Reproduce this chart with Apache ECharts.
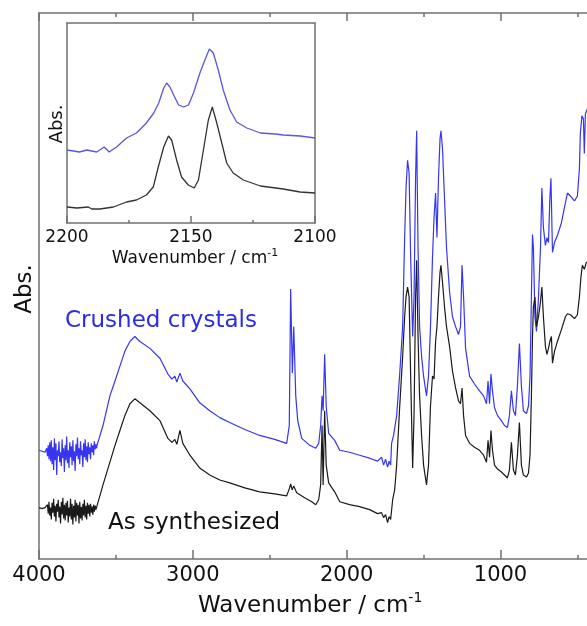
<!DOCTYPE html>
<html>
<head>
<meta charset="utf-8">
<script src="https://cdn.jsdelivr.net/npm/echarts@6/dist/echarts.min.js"></script>
<style>html,body{margin:0;padding:0;background:#fff;overflow:hidden;}#wrap{width:587px;height:626px;overflow:hidden;position:relative;}#c{width:664px;height:626px;position:absolute;left:0;top:0;}</style>
</head>
<body>
<div id="wrap"><div id="c"></div></div>
<script>
// Wavenumber (cm-1), absorbance (arbitrary units)
const crushedMain = [
[4000,110],[3990,110],[3980,109],[3970,110],[3960,108],
[3950,112],[3945,104],[3940,115],[3935,101],[3930,118],[3925,99],[3920,120],[3915,96],[3910,113],[3905,90],
[3900,122],[3895,100],[3890,117],[3885,85],[3880,110],[3875,104],[3870,119],[3865,98],[3860,108],[3855,94],
[3850,121],[3845,102],[3840,112],[3835,88],[3830,115],[3825,100],[3820,124],[3815,97],[3810,110],[3805,92],
[3800,118],[3795,103],[3790,114],[3785,95],[3780,120],[3775,99],[3770,109],[3765,89],[3760,116],[3755,104],
[3750,123],[3745,101],[3740,112],[3735,96],[3730,119],[3725,105],[3720,110],[3715,93],[3710,117],[3705,103],
[3700,121],[3695,100],[3690,114],[3685,98],[3680,118],[3675,106],[3670,113],[3665,101],[3660,117],[3655,108],
[3650,115],[3645,105],[3640,119],[3635,111],[3630,116],[3625,112],
[3623,115],[3584,135],[3539,165],[3506,180],[3474,195],[3442,210],[3409,220],[3377,225],[3344,220],[3279,213],
[3214,203],[3162,187],[3136,182],[3117,185],[3104,179],[3084,188],[3065,180],[3019,172],[2955,158],[2890,150],
[2825,143],[2760,138],[2662,131],[2565,125],[2468,121],[2390,117],[2373,135],[2364,273],[2353,188],[2344,235],
[2331,165],[2318,140],[2292,122],[2240,115],[2201,112],[2182,117],[2169,135],[2160,165],[2153,150],[2143,207],
[2133,155],[2117,127],[2078,120],[2045,110],[1981,108],[1916,105],[1851,102],[1799,99],[1773,103],[1760,95],
[1747,101],[1734,93],[1724,99],[1714,95],[1708,117],[1695,125],[1675,145],[1656,185],[1636,235],[1623,325],
[1614,375],[1604,403],[1594,390],[1584,305],[1571,225],[1562,265],[1552,385],[1545,433],[1536,315],[1526,235],
[1513,205],[1500,185],[1481,165],[1468,185],[1455,235],[1442,305],[1432,345],[1422,370],[1413,325],[1403,385],
[1393,425],[1387,433],[1377,415],[1364,365],[1351,315],[1331,270],[1312,245],[1292,235],[1273,227],[1260,235],
[1250,297],[1240,265],[1227,213],[1201,185],[1169,177],[1136,170],[1110,165],[1091,157],[1081,180],[1071,157],
[1062,187],[1052,170],[1039,153],[1019,145],[994,140],[974,135],[955,133],[942,145],[929,170],[916,150],
[903,145],[890,175],[877,218],[864,175],[851,150],[831,147],[818,155],[808,185],[799,265],[792,328],
[786,315],[776,245],[766,230],[753,265],[740,315],[731,375],[721,335],[708,317],[698,325],[688,320],
[679,365],[672,385],[662,310],[649,320],[630,327],[604,340],[578,360],[565,370],[545,367],[519,362],
[500,367],[487,395],[481,430],[471,448],[461,445],[455,410],[448,450],[435,455],[409,457],[400,457]
];
const synthMain = [
[4000,52],[3990,52],[3980,51],[3970,53],[3960,52],[3950,50],
[3945,55],[3940,46],[3935,58],[3930,44],[3925,52],[3920,40],[3915,57],[3910,47],[3905,61],[3900,43],
[3895,54],[3890,38],[3885,56],[3880,48],[3875,60],[3870,42],[3865,53],[3860,36],[3855,58],[3850,45],
[3845,62],[3840,41],[3835,55],[3830,39],[3825,57],[3820,44],[3815,59],[3810,37],[3805,52],[3800,43],
[3795,61],[3790,40],[3785,56],[3780,35],[3775,54],[3770,42],[3765,60],[3760,38],[3755,57],[3750,44],
[3745,55],[3740,36],[3735,58],[3730,41],[3725,53],[3720,39],[3715,56],[3710,44],[3705,60],[3700,42],
[3695,54],[3690,40],[3685,57],[3680,46],[3675,55],[3670,43],[3665,56],[3660,47],[3655,53],[3650,45],
[3645,55],[3640,48],[3635,54],[3630,50],[3625,52],
[3623,52],[3584,75],[3539,98],[3506,115],[3474,130],[3442,145],[3409,157],[3377,162],[3344,158],[3279,150],
[3214,140],[3162,122],[3136,118],[3117,121],[3104,116],[3084,130],[3065,117],[3019,105],[2955,92],[2890,85],
[2825,80],[2760,77],[2662,72],[2565,68],[2468,66],[2390,64],[2373,71],[2364,76],[2354,70],[2344,74],
[2325,67],[2273,62],[2227,58],[2201,55],[2182,60],[2169,75],[2160,135],[2153,75],[2143,150],[2133,95],
[2117,77],[2078,68],[2045,58],[1981,55],[1916,53],[1851,50],[1799,46],[1773,47],[1760,42],[1747,45],
[1734,37],[1724,43],[1714,40],[1701,60],[1688,70],[1675,95],[1656,152],[1636,205],[1623,245],[1614,265],
[1604,275],[1594,265],[1584,185],[1571,92],[1562,145],[1552,265],[1545,302],[1536,225],[1526,165],[1513,125],
[1500,95],[1481,75],[1468,95],[1455,155],[1442,185],[1432,182],[1422,220],[1413,235],[1403,265],[1393,290],
[1387,297],[1377,280],[1364,255],[1351,235],[1331,215],[1312,190],[1292,173],[1273,160],[1260,157],[1250,173],
[1240,145],[1227,125],[1201,117],[1169,113],[1136,110],[1110,105],[1091,98],[1081,120],[1071,103],[1062,130],
[1052,110],[1039,95],[1019,91],[994,88],[974,85],[955,82],[942,90],[929,118],[916,90],[903,85],
[890,105],[877,138],[864,95],[851,85],[831,83],[818,87],[808,105],[799,165],[792,225],[786,255],
[776,265],[766,235],[753,245],[740,260],[731,275],[721,245],[708,215],[698,207],[688,213],[679,220],
[669,225],[662,198],[649,210],[630,220],[604,232],[578,245],[565,248],[545,247],[519,243],[500,247],
[487,265],[477,285],[468,297],[455,293],[442,300],[400,302]
];
const crushedInset = [
[2200,73],[2195,71],[2192,73],[2188,71],[2185,76],[2183,71],[2180,76],[2176,85],[2172,90],[2168,100],
[2165,110],[2163,120],[2161,135],[2159.8,140],[2158.5,136],[2157,128],[2155,118],[2153,116],[2151,118],[2149,130],
[2146.4,150],[2144.4,163],[2142.6,174],[2141,170],[2139,153],[2137,133],[2134.3,113],[2131.6,101],[2127.5,95],[2122,90],
[2116,89],[2112.8,88],[2106,87],[2100,85]
];
const synthInset = [
[2200,16],[2196,15],[2191.4,16],[2190,14],[2186.7,14],[2181.3,16],[2176,21],[2172,23],[2168,28],[2165.2,36],
[2163.2,56],[2161,76],[2159.1,87],[2157.8,83],[2155.8,63],[2153.8,46],[2151.1,38],[2148.7,35],[2147,43],[2145,73],
[2143,103],[2141.4,116],[2139.6,100],[2137.6,80],[2135.6,60],[2133,50],[2128.9,43],[2122,37],[2112.8,34],[2106,31],
[2100,30]
];
const seriesNames = ['Crushed crystals', 'As synthesized'];

const FONT = 'DejaVu Sans';
const GREY = '#707070';
const plain = v => String(v);
const chart = echarts.init(document.getElementById('c'), null, {renderer: 'canvas'});
chart.setOption({
  animation: false,
  backgroundColor: '#fff',
  grid: [
    {left: 39, right: 0, top: 13, bottom: 61, containLabel: false},
    {left: 67, top: 23, width: 248, height: 200, show: true, backgroundColor: '#fff', borderWidth: 0, containLabel: false}
  ],
  xAxis: [
    {gridIndex: 0, type: 'value', inverse: true, min: 0, max: 4000, interval: 1000, position: 'bottom',
     axisLine: {show: true, onZero: false, lineStyle: {color: GREY, width: 1.5}},
     axisTick: {show: true, inside: true, length: 9, lineStyle: {color: GREY, width: 1.5}},
     minorTick: {show: true, splitNumber: 2, length: 4, lineStyle: {color: GREY, width: 1.5}},
     splitLine: {show: false}, minorSplitLine: {show: false},
     axisLabel: {fontFamily: FONT, fontSize: 21, color: '#111', margin: 6, formatter: plain},
     name: 'Wavenumber / cm{sup|-1}', nameLocation: 'middle', nameGap: 30,
     nameTextStyle: {fontFamily: FONT, fontSize: 23, lineHeight: 30, color: '#111', padding: [0, 73, 0, 0],
       rich: {sup: {fontFamily: FONT, fontSize: 14, color: '#111', verticalAlign: 'top', lineHeight: 14}}}
    },
    {gridIndex: 0, type: 'value', inverse: true, min: 0, max: 4000, interval: 1000, position: 'top',
     axisLine: {show: true, onZero: false, lineStyle: {color: GREY, width: 1.5}},
     axisTick: {show: true, inside: true, length: 8, lineStyle: {color: GREY, width: 1.5}},
     minorTick: {show: true, splitNumber: 2, length: 4, lineStyle: {color: GREY, width: 1.5}},
     splitLine: {show: false}, axisLabel: {show: false}
    },
    {gridIndex: 1, type: 'value', inverse: true, min: 2100, max: 2200, interval: 50, position: 'bottom',
     axisLine: {show: true, onZero: false, lineStyle: {color: GREY, width: 1.5}},
     axisTick: {show: true, inside: true, length: 7, lineStyle: {color: GREY, width: 1.5}},
     minorTick: {show: true, splitNumber: 2, length: 3, lineStyle: {color: GREY, width: 1.5}},
     splitLine: {show: false},
     axisLabel: {fontFamily: FONT, fontSize: 17, color: '#111', margin: 6, formatter: plain},
     name: 'Wavenumber / cm{sup|-1}', nameLocation: 'middle', nameGap: 25,
     nameTextStyle: {fontFamily: FONT, fontSize: 17, lineHeight: 22, color: '#111', padding: [0, 0, 0, 8],
       rich: {sup: {fontFamily: FONT, fontSize: 11, color: '#111', verticalAlign: 'top', lineHeight: 11}}}
    },
    {gridIndex: 1, type: 'value', inverse: true, min: 2100, max: 2200, position: 'top',
     axisLine: {show: true, onZero: false, lineStyle: {color: GREY, width: 1.5}},
     axisTick: {show: false}, splitLine: {show: false}, axisLabel: {show: false}
    }
  ],
  yAxis: [
    {gridIndex: 0, type: 'value', min: 0, max: 552, position: 'left',
     axisLine: {show: true, onZero: false, lineStyle: {color: GREY, width: 1.5}},
     axisTick: {show: false}, splitLine: {show: false}, axisLabel: {show: false}},
    {gridIndex: 1, type: 'value', min: 0, max: 200, position: 'left',
     axisLine: {show: true, onZero: false, lineStyle: {color: GREY, width: 1.5}},
     axisTick: {show: false}, splitLine: {show: false}, axisLabel: {show: false}},
    {gridIndex: 1, type: 'value', min: 0, max: 200, position: 'right',
     axisLine: {show: true, onZero: false, lineStyle: {color: GREY, width: 1.5}},
     axisTick: {show: false}, splitLine: {show: false}, axisLabel: {show: false}}
  ],
  series: [
    {name: seriesNames[0], type: 'line', xAxisIndex: 0, yAxisIndex: 0, data: crushedMain, showSymbol: false, symbol: 'none',
     lineStyle: {color: '#3535f2', width: 1.2}, z: 3},
    {name: seriesNames[1], type: 'line', xAxisIndex: 0, yAxisIndex: 0, data: synthMain, showSymbol: false, symbol: 'none',
     lineStyle: {color: '#1a1a1a', width: 1.2}, z: 3},
    {name: seriesNames[0] + ' (inset)', type: 'line', xAxisIndex: 2, yAxisIndex: 1, data: crushedInset, showSymbol: false, symbol: 'none',
     lineStyle: {color: '#5757e0', width: 1.3}, z: 5},
    {name: seriesNames[1] + ' (inset)', type: 'line', xAxisIndex: 2, yAxisIndex: 1, data: synthInset, showSymbol: false, symbol: 'none',
     lineStyle: {color: '#333', width: 1.3}, z: 5}
  ],
  graphic: [
    {type: 'text', x: 65, y: 321, z: 10, style: {text: seriesNames[0], font: '23px "DejaVu Sans"', fill: '#2a2ae8',
      align: 'left', verticalAlign: 'middle', textAlign: 'left', textVerticalAlign: 'middle'}},
    {type: 'text', x: 108, y: 523, z: 10, style: {text: seriesNames[1], font: '23px "DejaVu Sans"', fill: '#111',
      align: 'left', verticalAlign: 'middle', textAlign: 'left', textVerticalAlign: 'middle'}},
    {type: 'text', x: 25, y: 289, rotation: Math.PI / 2, z: 10, style: {text: 'Abs.', font: '23px "DejaVu Sans"', fill: '#111',
      align: 'center', verticalAlign: 'middle', textAlign: 'center', textVerticalAlign: 'middle'}},
    {type: 'text', x: 57, y: 124, rotation: Math.PI / 2, z: 10, style: {text: 'Abs.', font: '18px "DejaVu Sans"', fill: '#111',
      align: 'center', verticalAlign: 'middle', textAlign: 'center', textVerticalAlign: 'middle'}}
  ]
});
</script>
</body>
</html>
